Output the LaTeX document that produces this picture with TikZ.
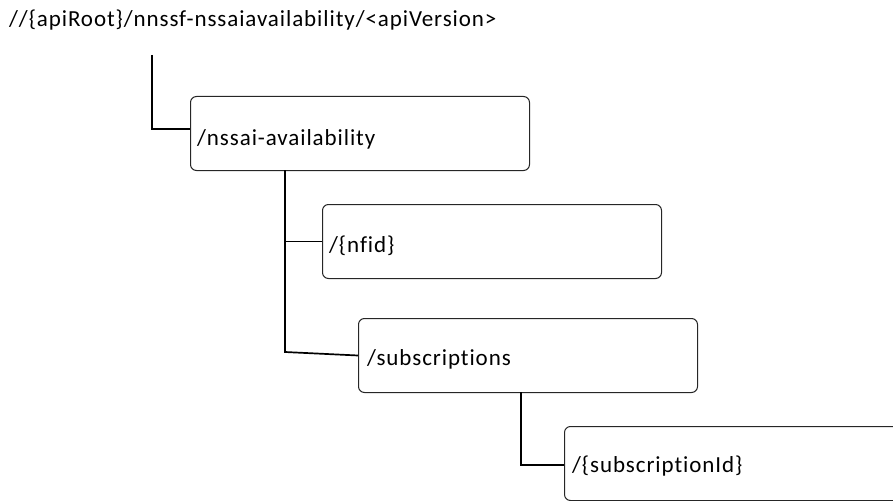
\documentclass[tikz,border=0pt]{standalone}
\usepackage{fontspec}
\setmainfont{Carlito}[LetterSpace=4,Ligatures=NoCommon]
\begin{document}
\begin{tikzpicture}[x=1pt,y=-1pt,
  box/.style={draw=black!85,line width=1pt,rounded corners=6pt,minimum width=339pt,minimum height=74pt,anchor=north west,inner sep=0pt},
  lbl/.style={anchor=base west,font=\fontsize{23}{25}\selectfont,inner sep=0pt},
  conn/.style={line width=1.7pt}]
\useasboundingbox (0,0) rectangle (893,500);
\clip (0,0) rectangle (893,500);
\node[lbl] (title) at (9,27) {//\{apiRoot\}/nnssf-nssaiavailability/<apiVersion>};
\node[box] (b1) at (190,96) {};
\node[lbl] (l1) at (197,145) {/nssai-availability};
\node[box] (b2) at (322,204) {};
\node[lbl] (l2) at (329,252) {/\{nfid\}};
\node[box] (b3) at (358,318) {};
\node[lbl] (l3) at (367,365) {/subscriptions};
\node[box,minimum width=360pt] (b4) at (564,426) {};
\node[lbl] (l4) at (572,472) {/\{subscriptionId\}};
\coordinate (c0) at (152,55);
\coordinate (c1) at (152,129);
\coordinate (c2) at (285,170);
\coordinate (c3) at (285,352);
\coordinate (c4) at (521,392);
\coordinate (c5) at (521,465);
\draw[conn] (c0) -- (c1) -- (c1 -| b1.west);
\draw[conn] (c2) -- (c3) -- (b3.west);
\draw[conn] (c2 |- b2.west) -- (b2.west);
\draw[conn] (c4) -- (c5) -- (c5 -| b4.west);
\end{tikzpicture}
\end{document}
